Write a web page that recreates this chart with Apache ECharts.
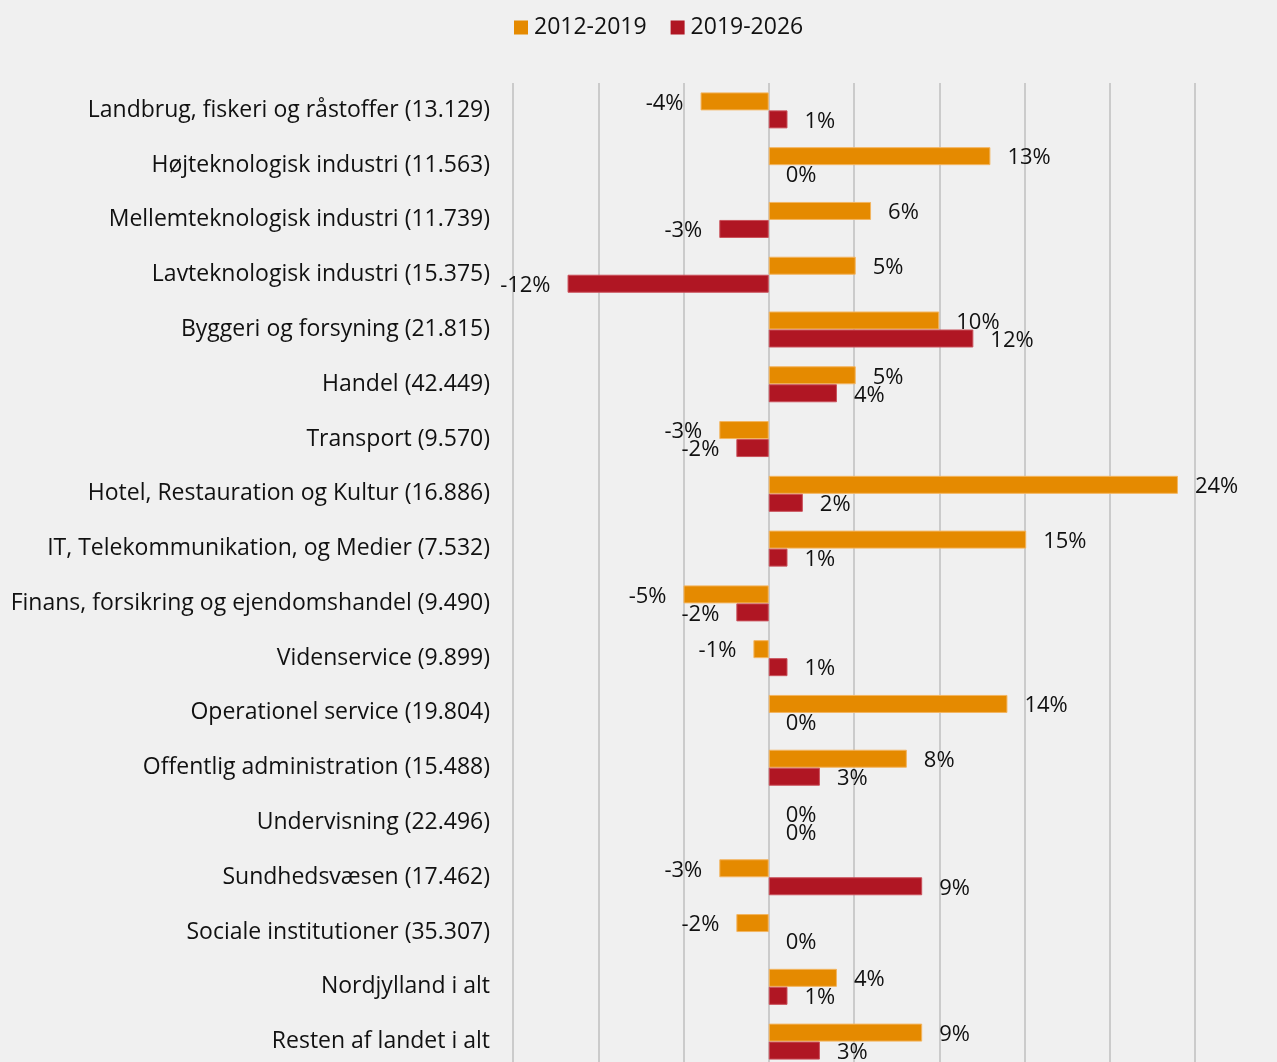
<!DOCTYPE html>
<html lang="da">
<head>
    <meta charset="UTF-8">
    <title>Beskæftigelsesudvikling</title>
    <script src="https://cdn.jsdelivr.net/npm/echarts@6/dist/echarts.min.js"></script>
    <style>
        html, body { margin: 0; padding: 0; background: #f0f0f0; overflow: hidden; }
        /* plottet fortsætter lidt under billedkanten, som i originalen */
        #main { width: 1277px; height: 1069px; }
    </style>
</head>
<body>
    <div id="main"></div>
    <script>
        // kategorier (oppefra og ned)
        var categories = [
            'Landbrug, fiskeri og råstoffer (13.129)',
            'Højteknologisk industri (11.563)',
            'Mellemteknologisk industri (11.739)',
            'Lavteknologisk industri (15.375)',
            'Byggeri og forsyning (21.815)',
            'Handel (42.449)',
            'Transport (9.570)',
            'Hotel, Restauration og Kultur (16.886)',
            'IT, Telekommunikation, og Medier (7.532)',
            'Finans, forsikring og ejendomshandel (9.490)',
            'Videnservice (9.899)',
            'Operationel service (19.804)',
            'Offentlig administration (15.488)',
            'Undervisning (22.496)',
            'Sundhedsvæsen (17.462)',
            'Sociale institutioner (35.307)',
            'Nordjylland i alt',
            'Resten af landet i alt'
        ];
        var names = ['2012-2019', '2019-2026'];
        var v2012 = [-4.0, 13.0, 6.0, 5.1, 10.0, 5.1, -2.9, 24.0, 15.1, -5.0, -0.9, 14.0, 8.1, 0.0, -2.9, -1.9, 4.0, 9.0];
        var v2019 = [1.1, 0.0, -2.9, -11.8, 12.0, 4.0, -1.9, 2.0, 1.1, -1.9, 1.1, 0.0, 3.0, 0.0, 9.0, 0.0, 1.1, 3.0];
        var colors = ['#e58a00', '#b01623'];
        var borders = ['#f3b560', '#c9505a'];

        var font = '"Open Sans", "Liberation Sans", sans-serif';

        function toItems(arr) {
            return arr.map(function (v) {
                return {
                    value: v,
                    itemStyle: { borderWidth: v === 0 ? 0 : 1 },
                    label: { position: v < 0 ? 'left' : 'right' }
                };
            });
        }

        var myChart = echarts.init(document.getElementById('main'));
        var option = {
            backgroundColor: '#f0f0f0',
            legend: {
                top: 11,
                left: 509,
                icon: 'rect',
                itemWidth: 14,
                itemHeight: 14,
                itemGap: 24,
                textStyle: { fontSize: 23, color: '#111', fontFamily: font, padding: [0, 0, 0, 1] }
            },
            grid: { left: 513, top: 83, right: 82, bottom: 0 },
            xAxis: {
                type: 'value',
                min: -15,
                max: 25,
                interval: 5,
                axisLabel: { show: false },
                axisLine: { show: false },
                axisTick: { show: false },
                splitLine: { lineStyle: { color: '#cbcbcb', width: 2 } }
            },
            yAxis: {
                type: 'category',
                inverse: true,
                data: categories,
                axisLine: { show: false, onZero: false },
                axisTick: { show: false },
                axisLabel: { margin: 23, fontSize: 23, color: '#111', fontFamily: font }
            },
            series: [v2012, v2019].map(function (arr, i) {
                return {
                    name: names[i],
                    type: 'bar',
                    data: toItems(arr),
                    barWidth: 18,
                    barGap: '0%',
                    itemStyle: { color: colors[i], borderColor: borders[i] },
                    label: {
                        show: true,
                        distance: 17,
                        offset: [0, 2],
                        fontSize: 22,
                        color: '#111',
                        fontFamily: font,
                        formatter: function (p) { return Math.round(p.value) + '%'; }
                    }
                };
            })
        };
        myChart.setOption(option);
    </script>
</body>
</html>
